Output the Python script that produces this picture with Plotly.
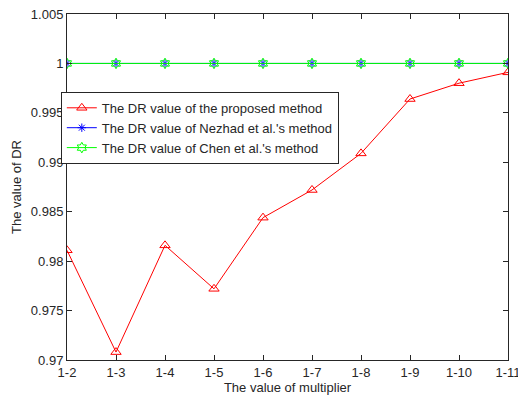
import plotly.graph_objects as go

multipliers = ["1-2", "1-3", "1-4", "1-5", "1-6", "1-7", "1-8", "1-9", "1-10", "1-11"]
dr_proposed = [0.9811, 0.9708, 0.9816, 0.9772, 0.9844, 0.9872, 0.9909, 0.9964, 0.9980, 0.9991]
dr_nezhad = [1, 1, 1, 1, 1, 1, 1, 1, 1, 1]
dr_chen = [1, 1, 1, 1, 1, 1, 1, 1, 1, 1]
y_ticks = [0.97, 0.975, 0.98, 0.985, 0.99, 0.995, 1, 1.005]
y_ticktext = ["0.97", "0.975", "0.98", "0.985", "0.99", "0.995", "1", "1.005"]

FONT = "Liberation Sans, Arial, sans-serif"
FS = 13

fig = go.Figure()
fig.add_trace(go.Scatter(
    x=multipliers, y=dr_proposed, mode="lines+markers",
    name="The DR value of the proposed method",
    line=dict(color="#ff0000", width=1),
    marker=dict(symbol="triangle-up-open", size=9, color="#ff0000", line=dict(width=1)),
))
fig.add_trace(go.Scatter(
    x=multipliers, y=dr_nezhad, mode="lines+markers",
    name="The DR value of Nezhad et al.'s method",
    line=dict(color="#0000ff", width=1),
    marker=dict(symbol="asterisk-open", size=7, color="#0000ff", line=dict(width=1, color="#0000ff")),
))
fig.add_trace(go.Scatter(
    x=multipliers, y=dr_chen, mode="lines+markers",
    name="The DR value of Chen et al.'s method",
    line=dict(color="#00ff00", width=1),
    marker=dict(symbol="hexagram-open", size=8, color="#00ff00", line=dict(width=1)),
))

axis_common = dict(
    showline=True, linecolor="#262626", linewidth=1, mirror="ticks",
    ticks="inside", ticklen=5, tickcolor="#262626", showgrid=False, zeroline=False,
    automargin=False,
    tickfont=dict(family=FONT, size=FS, color="#262626"),
)

fig.update_layout(
    width=518, height=397,
    margin=dict(l=67, r=10, t=14, b=37),
    paper_bgcolor="white", plot_bgcolor="white",
    font=dict(family=FONT, size=FS, color="#262626"),
    showlegend=True,
    legend=dict(
        x=-0.014, y=0.775, xanchor="left", yanchor="top",
        bgcolor="white", bordercolor="#262626", borderwidth=1,
        font=dict(family=FONT, size=FS, color="#262626"),
        tracegroupgap=0,
    ),
    xaxis=dict(
        axis_common, type="category", range=[0, 9],
        title=dict(text="The value of multiplier", font=dict(family=FONT, size=FS), standoff=4),
    ),
    yaxis=dict(
        axis_common, range=[0.97, 1.005], tickvals=y_ticks, ticktext=y_ticktext,
        title=dict(text="The value of DR", font=dict(family=FONT, size=FS), standoff=6),
    ),
)

fig.write_html("out.html")
